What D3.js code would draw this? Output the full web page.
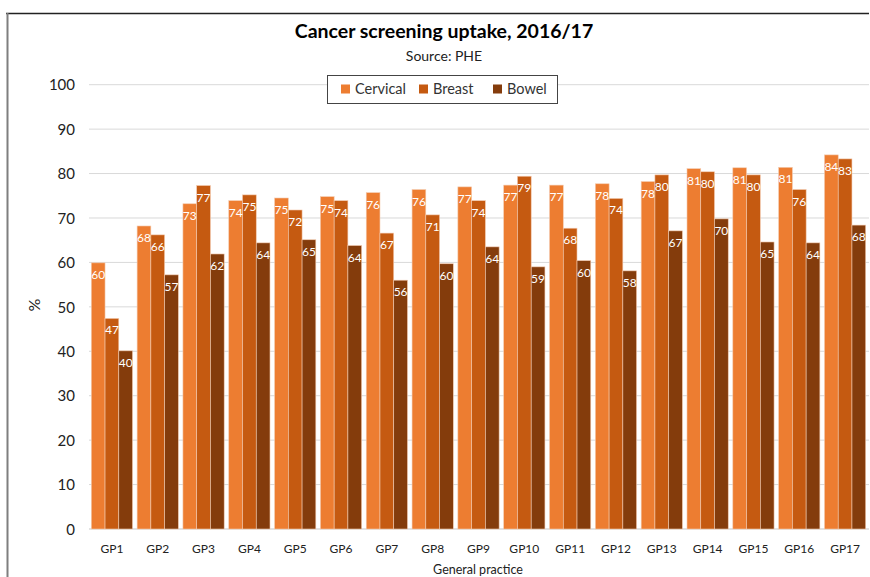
<!DOCTYPE html>
<html><head><meta charset="utf-8">
<script src="https://cdn.jsdelivr.net/npm/d3@7"></script>
<style>
html,body{margin:0;padding:0;background:#fff;overflow:hidden;}
svg{display:block;}
svg text{font-family:Lato,"Open Sans",sans-serif;}
</style></head>
<body>
<svg id="chart" width="870" height="577"></svg>
<script>
const categories = ["GP1","GP2","GP3","GP4","GP5","GP6","GP7","GP8","GP9","GP10","GP11","GP12","GP13","GP14","GP15","GP16","GP17"];
const seriesNames = ["Cervical","Breast","Bowel"];
const cervical = [59.9,68.2,73.2,73.9,74.5,74.8,75.7,76.4,77.0,77.4,77.4,77.7,78.2,81.1,81.3,81.4,84.2];
const breast   = [47.4,66.2,77.3,75.2,71.8,73.9,66.6,70.7,73.9,79.4,67.7,74.4,79.7,80.4,79.7,76.4,83.3];
const bowel    = [40.1,57.2,61.9,64.4,65.1,63.8,56.0,59.7,63.5,59.0,60.4,58.1,67.1,69.8,64.6,64.4,68.4];
const yTicks = [0,10,20,30,40,50,60,70,80,90,100];
const colors = ["#ED7D31","#C55A11","#843C0C"];

const seriesValues = [cervical, breast, bowel];
const svg = d3.select("#chart");

// frame
svg.append("line").attr("x1",6).attr("x2",869).attr("y1",13.5).attr("y2",13.5).attr("stroke","#222").attr("stroke-width",1.5);
svg.append("line").attr("x1",7.5).attr("x2",7.5).attr("y1",13).attr("y2",577).attr("stroke","#7f7f7f").attr("stroke-width",2);

const x0 = d3.scaleBand().domain(categories).range([89,868]).paddingInner(0.1).paddingOuter(0.05);
const x1 = d3.scaleBand().domain(seriesNames).range([0,x0.bandwidth()]);
const y = d3.scaleLinear().domain([0,100]).range([529,84.7]);

// gridlines
svg.append("g").selectAll("line").data(yTicks).join("line")
  .attr("x1",89).attr("x2",869).attr("y1",d=>y(d)).attr("y2",d=>y(d))
  .attr("stroke","#d9d9d9").attr("stroke-width",1);

// y axis
const yAxis = d3.axisLeft(y).tickValues(yTicks).tickSize(0).tickPadding(0);
const yg = svg.append("g").attr("transform","translate(75,0)").call(yAxis);
yg.select(".domain").remove();
yg.selectAll("text").attr("font-size",15).attr("fill","#222").attr("dy","0.35em");

// x axis
const xAxis = d3.axisBottom(x0).tickSize(0).tickPadding(0);
const xg = svg.append("g").attr("transform","translate(0,529)").call(xAxis);
xg.select(".domain").remove();
xg.append("line").attr("x1",89).attr("x2",869).attr("y1",0).attr("y2",0).attr("stroke","#d9d9d9");
xg.selectAll("text").attr("font-size",12).attr("fill","#222").attr("dy","0").attr("y",24);

// bars
const groups = svg.append("g").selectAll("g").data(categories).join("g")
  .attr("transform",d=>`translate(${x0(d)},0)`);
groups.selectAll("rect").data((c,i)=>seriesNames.map((s,j)=>({s,v:seriesValues[j][i],j})))
  .join("rect")
  .attr("x",d=>x1(d.s)).attr("width",x1.bandwidth())
  .attr("y",d=>y(d.v)).attr("height",d=>y(0)-y(d.v))
  .attr("fill",d=>colors[d.j])
  .attr("stroke","#f4cbb0").attr("stroke-width",0.6);
groups.selectAll("text").data((c,i)=>seriesNames.map((s,j)=>({s,v:seriesValues[j][i],j})))
  .join("text")
  .attr("x",d=>x1(d.s)+x1.bandwidth()/2).attr("y",d=>y(d.v)+16)
  .attr("text-anchor","middle").attr("font-size",12).attr("fill","#fff")
  .text(d=>Math.round(d.v));

// titles
svg.append("text").attr("x",444).attr("y",38).attr("text-anchor","middle")
  .attr("font-size",19.5).attr("font-weight","bold").attr("fill","#000").text("Cancer screening uptake, 2016/17");
svg.append("text").attr("x",444).attr("y",61).attr("text-anchor","middle")
  .attr("font-size",14).attr("fill","#222").text("Source: PHE");
svg.append("text").attr("transform","translate(40,305) rotate(-90)").attr("text-anchor","middle")
  .attr("font-size",16).attr("fill","#222").text("%");
svg.append("text").attr("x",478).attr("y",574).attr("text-anchor","middle")
  .attr("font-size",12.5).attr("fill","#222").text("General practice");

// legend
const lg = svg.append("g");
lg.append("rect").attr("x",327.5).attr("y",75.5).attr("width",230).attr("height",28)
  .attr("fill","#fff").attr("stroke","#444").attr("stroke-width",1);
const legX = [341,419,493];
const li = lg.selectAll("g").data(seriesNames).join("g")
  .attr("transform",(d,i)=>`translate(${legX[i]},89)`);
li.append("rect").attr("x",0).attr("y",-4.5).attr("width",9).attr("height",9).attr("fill",(d,i)=>colors[i]);
li.append("text").attr("x",14).attr("y",0).attr("dy","0.35em").attr("font-size",14.5).attr("fill","#333").text(d=>d);
</script>
</body></html>
